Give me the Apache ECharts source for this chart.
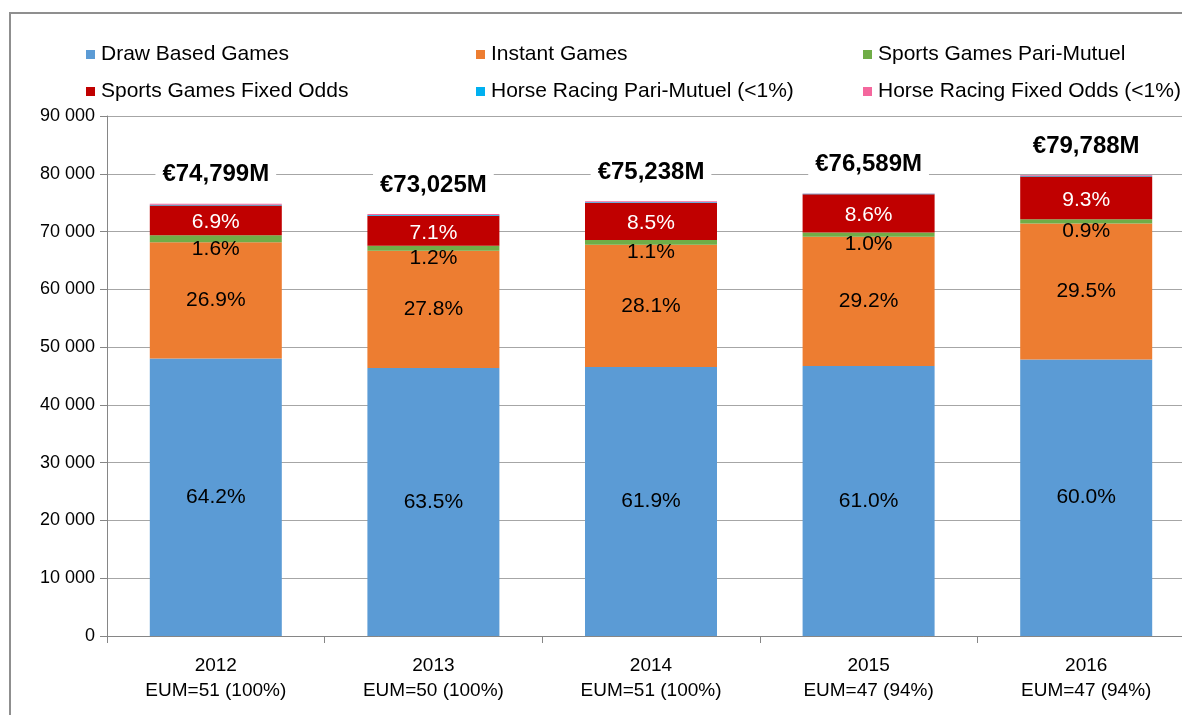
<!DOCTYPE html>
<html>
<head>
<meta charset="utf-8">
<script src="https://cdn.jsdelivr.net/npm/echarts@6/dist/echarts.min.js"></script>
<style>
html,body{margin:0;padding:0;background:#fff;overflow:hidden;}
#c{width:1200px;height:715px;}
</style>
</head>
<body>
<div id="c"></div>
<script>
const years = ['2012', '2013', '2014', '2015', '2016'];
const eumLabels = ['EUM=51 (100%)', 'EUM=50 (100%)', 'EUM=51 (100%)', 'EUM=47 (94%)', 'EUM=47 (94%)'];
const totalLabels = ['€74,799M', '€73,025M', '€75,238M', '€76,589M', '€79,788M'];

const drawBased = [48021, 46371, 46572, 46719, 47873];
const instant = [20121, 20301, 21142, 22364, 23537];
const sportsPariMutuel = [1197, 876, 828, 766, 718];
const sportsFixedOdds = [5161, 5185, 6395, 6587, 7420];
const horsePariMutuel = [130, 130, 150, 120, 130];
const horseFixedOdds = [170, 160, 150, 30, 110];

const drawPct = ['64.2%', '63.5%', '61.9%', '61.0%', '60.0%'];
const instantPct = ['26.9%', '27.8%', '28.1%', '29.2%', '29.5%'];
const sportsPmPct = ['1.6%', '1.2%', '1.1%', '1.0%', '0.9%'];
const sportsFoPct = ['6.9%', '7.1%', '8.5%', '8.6%', '9.3%'];

const seriesNames = ['Draw Based Games', 'Instant Games', 'Sports Games Pari-Mutuel',
  'Sports Games Fixed Odds', 'Horse Racing Pari-Mutuel (<1%)', 'Horse Racing Fixed Odds (<1%)'];
const colors = ['#5B9BD5', '#ED7D31', '#70AD47', '#C00000', '#00B0F0', '#F4679D'];

const FONT = '"Liberation Sans", Arial, sans-serif';

function pctLabel(arr, color, offset) {
  return {
    show: true,
    position: 'inside',
    color: color,
    fontFamily: FONT,
    fontSize: 21,
    offset: offset || [0, 0],
    formatter: p => arr[p.dataIndex]
  };
}

const dataSets = [drawBased, instant, sportsPariMutuel, sportsFixedOdds, horsePariMutuel, horseFixedOdds];
const labels = [
  pctLabel(drawPct, '#000'),
  pctLabel(instantPct, '#000'),
  pctLabel(sportsPmPct, '#000', [0, 10]),
  pctLabel(sportsFoPct, '#fff', [0, 2]),
  { show: false },
  {
    show: true,
    position: 'top',
    distance: 15,
    color: '#000',
    fontFamily: FONT,
    fontSize: 24,
    fontWeight: 'bold',
    backgroundColor: '#fff',
    padding: [2, 7],
    formatter: p => totalLabels[p.dataIndex]
  }
];

const series = dataSets.map((d, i) => ({
  name: seriesNames[i],
  type: 'bar',
  stack: 'total',
  data: d,
  barWidth: 132,
  itemStyle: { color: colors[i] },
  label: labels[i],
  emphasis: { disabled: true },
  silent: true,
  z: i === 5 ? 5 : 2
}));

const legendPos = [
  [86, 44], [476, 44], [863, 44],
  [86, 81], [476, 81], [863, 81]
];
const legends = seriesNames.map((name, k) => ({
  data: [name],
  left: legendPos[k][0],
  top: legendPos[k][1],
  icon: 'rect',
  itemWidth: 9,
  itemHeight: 9,
  itemGap: 0,
  selectedMode: false,
  padding: 0,
  textStyle: { fontFamily: FONT, fontSize: 21, color: '#000', padding: [0, 0, 0, 1] }
}));

const chart = echarts.init(document.getElementById('c'), null, { renderer: 'canvas' });
chart.setOption({
  animation: false,
  backgroundColor: '#fff',
  graphic: [{
    type: 'rect',
    shape: { x: 10, y: 13, width: 1400, height: 900 },
    style: { fill: 'none', stroke: '#8f8f8f', lineWidth: 2 },
    z: -1
  }],
  legend: legends,
  grid: { left: 107, top: 116, width: 1088, height: 520, containLabel: false },
  xAxis: {
    type: 'category',
    data: years,
    axisLine: { lineStyle: { color: '#868686', width: 1 } },
    axisTick: { show: true, length: 7, lineStyle: { color: '#868686' } },
    axisLabel: {
      fontFamily: FONT,
      fontSize: 19,
      color: '#000',
      margin: 17,
      lineHeight: 25,
      formatter: (v, i) => v + '\n' + eumLabels[i]
    }
  },
  yAxis: {
    type: 'value',
    min: 0,
    max: 90000,
    interval: 10000,
    axisLine: { show: true, lineStyle: { color: '#868686', width: 1 } },
    axisTick: { show: true, length: 7, lineStyle: { color: '#868686' } },
    splitLine: { lineStyle: { color: '#a6a6a6', width: 1 } },
    axisLabel: {
      fontFamily: FONT,
      fontSize: 18,
      color: '#000',
      margin: 12,
      formatter: v => String(v).replace(/\B(?=(\d{3})+(?!\d))/g, ' ')
    }
  },
  series: series
});
</script>
</body>
</html>
